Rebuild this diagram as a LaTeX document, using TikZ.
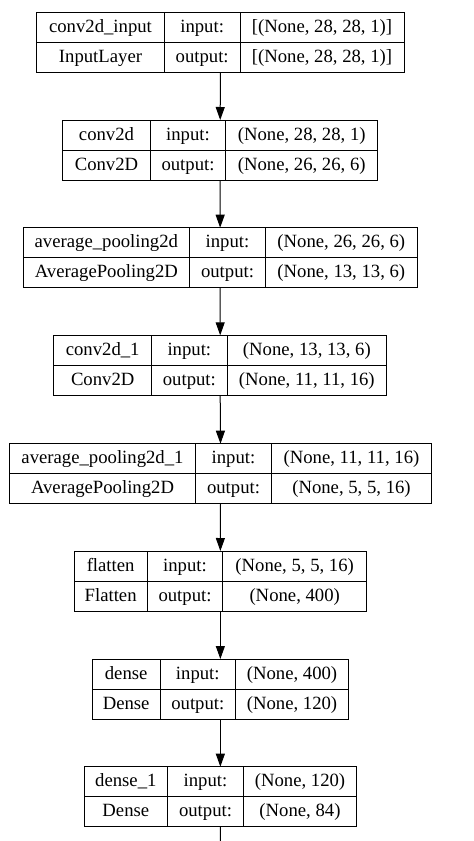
\documentclass[tikz,border=0pt]{standalone}
\usepackage{fontspec}
\setmainfont{Liberation Serif}
\usetikzlibrary{arrows.meta}
\tikzset{
  layerbox/.style={draw=black, line width=1pt, inner sep=0pt, outer sep=0pt, minimum height=60pt},
  celltext/.style={anchor=base, inner sep=0pt, font=\fontsize{18.7}{22}\selectfont},
  divider/.style={draw=black, line width=1pt},
  flow/.style={draw=black, line width=1pt, -{Triangle[length=13pt,width=9pt]}},
  tailline/.style={draw=black, line width=1pt}
}
\newcommand\mklayer[6]{\def\Lid{#1}\def\Lt{#2}\def\Ll{#3}\def\La{#4}\def\Lb{#5}\def\Lr{#6}\mklayerB}
\newcommand\mklayerB[4]{%
  \node[layerbox, minimum width={\Lr-\Ll}] (\Lid) at ({(\Ll+\Lr)/2},{\Lt+30}) {};
  \draw[divider] (\Ll,{\Lt+30}) -- (\Lr,{\Lt+30});
  \draw[divider] (\La,\Lt) -- (\La,{\Lt+60});
  \draw[divider] (\Lb,\Lt) -- (\Lb,{\Lt+60});
  \node[celltext] (\Lid-n) at ({(\Ll+\La)/2},{\Lt+20}) {#1};
  \node[celltext] (\Lid-c) at ({(\Ll+\La)/2},{\Lt+50}) {#2};
  \node[celltext] (\Lid-il) at ({(\La+\Lb)/2},{\Lt+20}) {input:};
  \node[celltext] (\Lid-ol) at ({(\La+\Lb)/2},{\Lt+50}) {output:};
  \node[celltext] (\Lid-i) at ({(\Lb+\Lr)/2},{\Lt+20}) {#3};
  \node[celltext] (\Lid-o) at ({(\Lb+\Lr)/2},{\Lt+50}) {#4};
}
\begin{document}
\begin{tikzpicture}[x=1pt,y=-1pt]
\useasboundingbox[fill=white] (0,0) rectangle (474,841);
\mklayer{L1}{12.7}{36.7}{164.3}{240}{404}{conv2d\_input}{InputLayer}{[(None, 28, 28, 1)]}{[(None, 28, 28, 1)]}
\mklayer{L2}{120}{62.7}{150.3}{225.7}{377.7}{conv2d}{Conv2D}{(None, 28, 28, 1)}{(None, 26, 26, 6)}
\mklayer{L3}{227.7}{23}{189.7}{265.3}{417.3}{average\_pooling2d}{AveragePooling2D}{(None, 26, 26, 6)}{(None, 13, 13, 6)}
\mklayer{L4}{335.3}{53.7}{151.7}{227}{386.7}{conv2d\_1}{Conv2D}{(None, 13, 13, 6)}{(None, 11, 11, 16)}
\mklayer{L5}{443.7}{9.3}{195.7}{271.3}{431.7}{average\_pooling2d\_1}{AveragePooling2D}{(None, 11, 11, 16)}{(None, 5, 5, 16)}
\mklayer{L6}{551}{74}{147.3}{222.7}{366.7}{flatten}{Flatten}{(None, 5, 5, 16)}{(None, 400)}
\mklayer{L7}{659}{92}{160.3}{235.3}{348.7}{dense}{Dense}{(None, 400)}{(None, 120)}
\mklayer{L8}{766.7}{84}{167.7}{243.3}{356.7}{dense\_1}{Dense}{(None, 120)}{(None, 84)}
\draw[flow] (L1.south) -- (L2.north);
\draw[flow] (L2.south) -- (L3.north);
\draw[flow] (L3.south) -- (L4.north);
\draw[flow] (L4.south) -- (L5.north);
\draw[flow] (L5.south) -- (L6.north);
\draw[flow] (L6.south) -- (L7.north);
\draw[flow] (L7.south) -- (L8.north);
\coordinate (tail) at (220.3,841);
\draw[tailline] (L8.south) -- (tail);
\end{tikzpicture}
\end{document}
